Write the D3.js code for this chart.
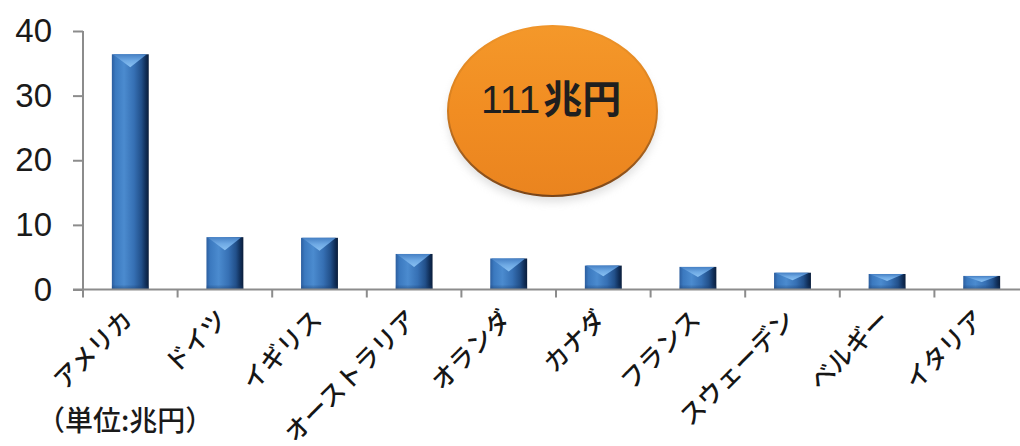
<!DOCTYPE html>
<html lang="ja">
<head>
<meta charset="utf-8">
<script src="https://cdn.jsdelivr.net/npm/d3@7/dist/d3.min.js"></script>
<style>
  html, body { margin: 0; padding: 0; background: #ffffff; }
  svg { display: block; }
</style>
</head>
<body>
<svg id="chart" width="1020" height="446"></svg>
<script>
// 国別の金額（兆円）
const categories = ["アメリカ", "ドイツ", "イギリス", "オーストラリア", "オランダ",
                    "カナダ", "フランス", "スウェーデン", "ベルギー", "イタリア"];
const values = [36.4, 8.1, 8.0, 5.5, 4.8, 3.7, 3.5, 2.6, 2.4, 2.1];
const yTicks = [0, 10, 20, 30, 40];
const totalLabel = "111";
const totalUnit = "兆円";
const unitLabel = "（単位:兆円）";

const svg = d3.select("#chart");
const defs = svg.append("defs");

const plotLeft = 83, plotBottom = 289.5, plotTop = 31;
const x = d3.scaleBand()
  .domain(categories)
  .range([plotLeft, plotLeft + 946])
  .paddingInner(0.61)
  .paddingOuter(0.305);
const y = d3.scaleLinear().domain([0, 40]).range([plotBottom, plotTop]);

// bar body: horizontal shading, light on the left third, dark on the right edge
const bodyGrad = defs.append("linearGradient").attr("id", "barBody")
  .attr("x1", "0").attr("x2", "1").attr("y1", "0").attr("y2", "0");
[[0, "#2c5e9f"], [0.1, "#3b79bf"], [0.33, "#4b8bcf"], [0.6, "#3670b4"],
 [0.8, "#22508a"], [0.92, "#102e58"], [1, "#0a1d3a"]]
  .forEach(([o, c]) => bodyGrad.append("stop").attr("offset", o).attr("stop-color", c));

const capGrad = defs.append("linearGradient").attr("id", "barCap")
  .attr("x1", "0").attr("x2", "0").attr("y1", "0").attr("y2", "1");
[[0, "#4680c4"], [0.5, "#6ea9e4"], [1, "#88c0f2"]]
  .forEach(([o, c]) => capGrad.append("stop").attr("offset", o).attr("stop-color", c));

const baseGrad = defs.append("linearGradient").attr("id", "barBase")
  .attr("x1", "0").attr("x2", "0").attr("y1", "0").attr("y2", "1");
[[0, "#1b3f70", 0], [1, "#1b3f70", 0.55]]
  .forEach(([o, c, a]) => baseGrad.append("stop").attr("offset", o).attr("stop-color", c).attr("stop-opacity", a));

// orange total badge
const orange = defs.append("linearGradient").attr("id", "badge")
  .attr("x1", "0").attr("x2", "0").attr("y1", "0").attr("y2", "1");
[[0, "#f4982a"], [0.5, "#f18d22"], [1, "#ea841f"]]
  .forEach(([o, c]) => orange.append("stop").attr("offset", o).attr("stop-color", c));
const rim = defs.append("linearGradient").attr("id", "rim")
  .attr("x1", "0").attr("x2", "0").attr("y1", "0").attr("y2", "1");
[[0, "#f0952a"], [0.45, "#d9801f"], [0.8, "#9a5a1e"], [1, "#7a4518"]]
  .forEach(([o, c]) => rim.append("stop").attr("offset", o).attr("stop-color", c));
const shadow = defs.append("filter").attr("id", "soft")
  .attr("x", "-20%").attr("y", "-20%").attr("width", "140%").attr("height", "150%");
shadow.append("feGaussianBlur").attr("stdDeviation", 4);

// bars
const bars = svg.append("g").selectAll("g").data(categories).join("g");
bars.append("rect")
  .attr("x", d => x(d))
  .attr("y", (d, i) => y(values[i]))
  .attr("width", x.bandwidth())
  .attr("height", (d, i) => y(0) - y(values[i]))
  .attr("fill", "url(#barBody)");
bars.append("path")
  .attr("d", (d, i) => {
    const x0 = x(d), x1 = x(d) + x.bandwidth(), yt = y(values[i]);
    const depth = Math.min(13, (y(0) - yt) * 0.45);
    return `M${x0 + 1},${yt}L${x1 - 2},${yt}L${(x0 + x1) / 2},${yt + depth}Z`;
  })
  .attr("fill", "url(#barCap)");
bars.append("rect")
  .attr("x", d => x(d))
  .attr("y", y(0) - 5)
  .attr("width", x.bandwidth())
  .attr("height", 5)
  .attr("fill", "url(#barBase)");

// axes
const axisColor = "#8c8c8c";
const yAxis = svg.append("g")
  .attr("transform", `translate(${plotLeft},0)`)
  .call(d3.axisLeft(y).tickValues(yTicks).tickSize(10).tickPadding(21).tickSizeOuter(0));
yAxis.select(".domain").remove();
yAxis.selectAll(".tick line").attr("stroke", axisColor).attr("stroke-width", 2);
yAxis.selectAll(".tick text")
  .attr("fill", "#1a1a1a")
  .style("font-family", "'Liberation Sans', Arial, sans-serif")
  .style("font-size", "33px");
svg.append("line")
  .attr("x1", plotLeft).attr("x2", plotLeft)
  .attr("y1", y(40)).attr("y2", plotBottom + 8)
  .attr("stroke", axisColor).attr("stroke-width", 2);
svg.append("line")
  .attr("x1", plotLeft - 10).attr("x2", 1020)
  .attr("y1", plotBottom).attr("y2", plotBottom)
  .attr("stroke", axisColor).attr("stroke-width", 2);

// category boundary ticks
const step = x.step();
svg.append("g").selectAll("line")
  .data(categories.slice(1))
  .join("line")
  .attr("x1", d => x(d) - (step - x.bandwidth()) / 2)
  .attr("x2", d => x(d) - (step - x.bandwidth()) / 2)
  .attr("y1", plotBottom).attr("y2", plotBottom + 8)
  .attr("stroke", axisColor).attr("stroke-width", 2);

// rotated category labels
svg.append("g").selectAll("text")
  .data(categories)
  .join("text")
  .attr("transform", d => `translate(${x(d) + x.bandwidth() / 2 + 4},${321}) rotate(-45)`)
  .attr("text-anchor", "end")
  .attr("fill", "#161616")
  .style("font-family", "'Noto Sans CJK JP', sans-serif")
  .style("font-weight", "500")
  .style("font-size", "25px")
  .text(d => d);

// unit note
svg.append("text")
  .attr("x", 37).attr("y", 431)
  .attr("fill", "#1a1a1a")
  .style("font-family", "'Noto Sans CJK JP', sans-serif")
  .style("font-weight", "500")
  .style("font-size", "28px")
  .text(unitLabel);

// total badge
const bx = 552.5, by = 111, rx = 104.5, ry = 85;
svg.append("ellipse")
  .attr("cx", bx).attr("cy", by + 6).attr("rx", rx).attr("ry", ry)
  .attr("fill", "#b0b0b0").attr("opacity", 0.4).attr("filter", "url(#soft)");
svg.append("ellipse")
  .attr("cx", bx).attr("cy", by).attr("rx", rx).attr("ry", ry)
  .attr("fill", "url(#badge)")
  .attr("stroke", "url(#rim)").attr("stroke-width", 2);
const t = svg.append("text")
  .attr("x", 481).attr("y", 113)
  .attr("fill", "#1f1f1f");
t.append("tspan")
  .style("font-family", "'Liberation Sans', Arial, sans-serif")
  .style("font-size", "39px")
  .text(totalLabel);
t.append("tspan")
  .attr("dx", 3)
  .style("font-family", "'Noto Sans CJK JP', sans-serif")
  .style("font-size", "39px")
  .style("font-weight", "bold")
  .text(totalUnit);
</script>
</body>
</html>
